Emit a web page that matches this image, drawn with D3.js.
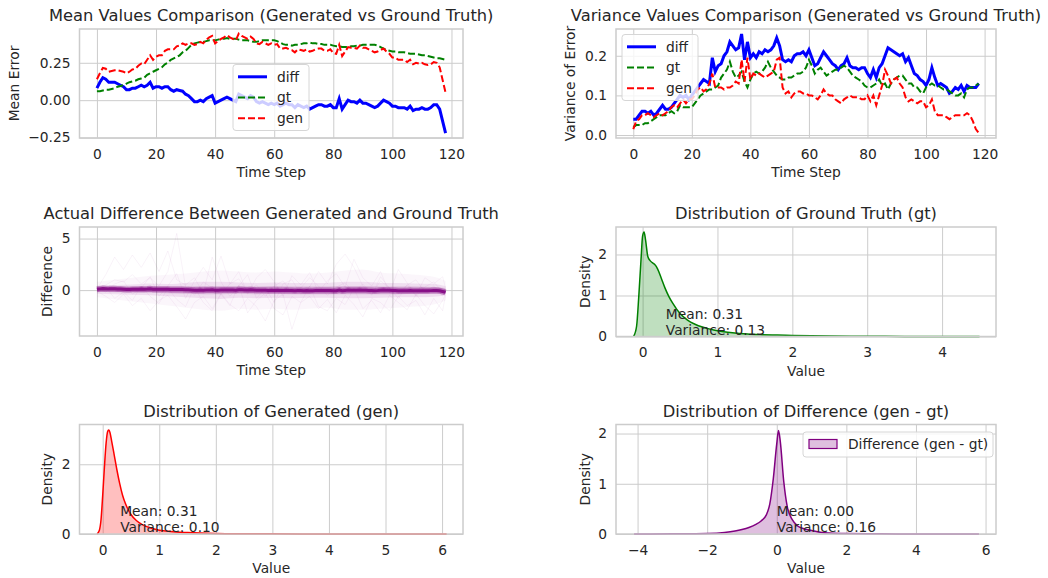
<!DOCTYPE html>
<html><head><meta charset="utf-8">
<script src="https://cdn.jsdelivr.net/npm/d3@7"></script>
<style>body{margin:0;background:#fff}svg{display:block;font-family:"DejaVu Sans",sans-serif}</style>
</head><body>
<script>
// ---------- DATA ----------
const timeSteps = d3.range(119);
const xTicksTime = [0,20,40,60,80,100,120];

const diffMean = [0.08,0.12,0.15,0.14,0.12,0.12,0.12,0.11,0.10,0.09,
0.07,0.07,0.08,0.08,0.09,0.10,0.09,0.10,0.12,0.08,
0.09,0.09,0.08,0.09,0.09,0.07,0.06,0.07,0.065,0.06,
0.04,0.03,0.01,-0.01,-0.01,0.00,-0.01,0.01,0.02,0.03,
-0.02,-0.01,0.00,0.01,0.02,0.01,0.00,-0.01,0.04,0.03,
0.02,0.01,0.03,0.02,-0.01,-0.02,-0.01,-0.02,-0.03,-0.02,
-0.03,-0.02,-0.04,-0.03,-0.02,-0.03,-0.03,-0.05,-0.03,-0.04,
-0.05,-0.04,-0.06,-0.05,-0.04,-0.03,-0.03,-0.04,-0.04,-0.03,
-0.05,-0.05,0.01,-0.06,-0.03,0.00,-0.01,-0.01,-0.02,0.00,
-0.02,-0.02,-0.03,-0.04,-0.05,-0.04,-0.02,0.00,-0.01,-0.02,
-0.04,-0.04,-0.05,-0.05,-0.05,-0.06,-0.04,-0.07,-0.06,-0.06,
-0.05,-0.06,-0.06,-0.05,-0.03,-0.03,-0.06,-0.14,-0.22];

const gtMean = [0.06,0.06,0.065,0.07,0.07,0.075,0.08,0.09,0.095,0.10,
0.11,0.12,0.125,0.13,0.14,0.145,0.15,0.17,0.18,0.19,
0.20,0.21,0.22,0.24,0.25,0.27,0.28,0.29,0.30,0.32,
0.33,0.35,0.37,0.38,0.385,0.39,0.39,0.395,0.40,0.40,
0.40,0.405,0.41,0.41,0.415,0.41,0.41,0.41,0.405,0.40,
0.40,0.40,0.395,0.39,0.39,0.395,0.40,0.40,0.40,0.40,
0.40,0.395,0.385,0.375,0.37,0.37,0.365,0.37,0.37,0.375,
0.38,0.38,0.385,0.38,0.38,0.375,0.375,0.37,0.37,0.37,
0.365,0.36,0.36,0.355,0.355,0.355,0.36,0.36,0.365,0.365,
0.37,0.37,0.37,0.37,0.37,0.365,0.355,0.345,0.335,0.33,
0.325,0.325,0.32,0.32,0.32,0.315,0.31,0.31,0.31,0.305,
0.30,0.30,0.295,0.29,0.285,0.28,0.28,0.275,0.27];

const genMean = [0.14,0.18,0.215,0.21,0.19,0.195,0.20,0.20,0.195,0.19,
0.18,0.19,0.205,0.21,0.23,0.245,0.24,0.27,0.30,0.27,
0.29,0.30,0.30,0.33,0.34,0.34,0.34,0.36,0.365,0.38,
0.37,0.38,0.38,0.37,0.375,0.39,0.38,0.405,0.42,0.43,
0.38,0.395,0.41,0.42,0.435,0.42,0.41,0.40,0.445,0.43,
0.42,0.41,0.425,0.41,0.38,0.375,0.39,0.38,0.37,0.38,
0.37,0.375,0.345,0.345,0.35,0.34,0.335,0.32,0.34,0.335,
0.33,0.34,0.325,0.33,0.34,0.345,0.345,0.33,0.33,0.34,
0.315,0.31,0.37,0.295,0.325,0.355,0.35,0.35,0.345,0.365,
0.35,0.35,0.34,0.33,0.32,0.325,0.335,0.345,0.325,0.31,
0.285,0.285,0.27,0.27,0.27,0.255,0.27,0.24,0.25,0.245,
0.25,0.24,0.235,0.24,0.255,0.25,0.22,0.135,0.05];

const diffVar = [0.04,0.04,0.05,0.06,0.06,0.055,0.06,0.05,0.055,0.065,
0.075,0.065,0.065,0.07,0.08,0.09,0.10,0.095,0.10,0.09,
0.10,0.11,0.12,0.13,0.14,0.135,0.13,0.195,0.16,0.175,
0.18,0.20,0.21,0.235,0.225,0.215,0.22,0.255,0.19,0.235,
0.195,0.205,0.195,0.21,0.205,0.215,0.21,0.215,0.225,0.245,
0.225,0.19,0.185,0.19,0.185,0.20,0.205,0.205,0.21,0.20,
0.215,0.195,0.175,0.18,0.195,0.21,0.20,0.19,0.18,0.175,
0.165,0.175,0.18,0.195,0.175,0.17,0.17,0.165,0.17,0.17,
0.155,0.145,0.165,0.145,0.17,0.18,0.20,0.22,0.215,0.21,
0.205,0.20,0.205,0.185,0.195,0.175,0.155,0.15,0.14,0.135,
0.125,0.14,0.17,0.145,0.125,0.13,0.125,0.12,0.105,0.11,
0.12,0.115,0.125,0.11,0.125,0.12,0.12,0.12,0.13];

const gtVar = [0.02,0.025,0.025,0.025,0.03,0.03,0.035,0.04,0.045,0.05,
0.05,0.05,0.055,0.06,0.055,0.06,0.075,0.07,0.07,0.07,
0.07,0.08,0.09,0.10,0.105,0.11,0.115,0.115,0.12,0.125,
0.145,0.155,0.165,0.185,0.16,0.145,0.15,0.16,0.135,0.12,
0.14,0.155,0.16,0.155,0.16,0.17,0.185,0.17,0.16,0.15,
0.145,0.14,0.14,0.145,0.145,0.15,0.155,0.155,0.16,0.17,
0.19,0.175,0.155,0.165,0.17,0.16,0.15,0.155,0.16,0.165,
0.165,0.17,0.175,0.17,0.16,0.15,0.145,0.14,0.135,0.125,
0.12,0.12,0.125,0.13,0.14,0.125,0.13,0.115,0.13,0.14,
0.145,0.15,0.15,0.14,0.13,0.13,0.12,0.12,0.11,0.105,
0.12,0.125,0.13,0.125,0.125,0.12,0.115,0.115,0.11,0.105,
0.10,0.10,0.105,0.095,0.115,0.12,0.12,0.125,0.13];

const genVar = [0.015,0.035,0.04,0.05,0.05,0.055,0.05,0.045,0.05,0.055,
0.05,0.055,0.06,0.07,0.075,0.07,0.08,0.09,0.08,0.09,
0.09,0.10,0.115,0.12,0.11,0.115,0.13,0.155,0.12,0.12,
0.12,0.115,0.12,0.12,0.125,0.135,0.13,0.19,0.135,0.195,
0.14,0.155,0.15,0.155,0.15,0.145,0.15,0.155,0.16,0.19,
0.195,0.12,0.105,0.11,0.095,0.105,0.11,0.11,0.105,0.105,
0.10,0.10,0.095,0.09,0.10,0.115,0.105,0.10,0.10,0.09,
0.085,0.08,0.09,0.095,0.10,0.095,0.095,0.095,0.09,0.09,
0.10,0.085,0.10,0.075,0.10,0.125,0.165,0.15,0.13,0.14,
0.145,0.13,0.12,0.095,0.085,0.09,0.085,0.08,0.085,0.085,
0.07,0.075,0.09,0.06,0.05,0.05,0.05,0.045,0.04,0.045,
0.05,0.05,0.05,0.05,0.055,0.05,0.035,0.015,0.005];

// per-sample difference traces (every 3rd step) and spread envelopes (every 6th step)
const traceSteps = [0,3,6,9,12,15,18,21,24,27,30,33,36,39,42,45,48,51,54,57,60,63,66,69,72,75,78,81,84,87,90,93,96,99,102,105,108,111,114,117,118];
const traceA = [0.2,0.5,1.0,0.8,1.5,0.6,1.2,0.4,1.8,5.5,0.3,-0.5,0.8,0.2,-0.4,0.6,1.1,-0.2,0.5,-0.6,0.4,0.9,-0.3,0.2,1.2,0.4,-0.5,0.3,0.7,-0.2,0.6,-0.4,0.9,0.2,-0.3,0.5,-0.6,0.3,0.8,-0.2,0.1];
const traceB = [0.1,1.5,3.2,2.0,3.4,2.2,3.6,1.8,3.8,1.0,0.5,1.2,-0.3,3.2,0.8,-0.6,0.4,1.5,-0.8,0.2,-1.2,0.6,1.0,-0.4,0.3,1.8,0.6,2.5,3.5,2.2,0.4,-0.5,1.3,0.2,-0.8,0.5,1.0,-0.2,0.4,-0.6,0.0];
const traceC = [-0.1,-0.6,-1.2,-0.4,-1.5,-0.8,-2.0,-1.0,-0.5,-1.6,-2.8,-1.2,-0.6,-1.8,-0.3,-1.4,-2.0,-0.8,-1.6,-3.0,-1.0,-0.4,-3.8,-1.2,-0.6,-1.8,-0.9,-2.2,-0.5,-1.4,-2.6,-0.8,-1.2,-2.0,-0.6,-1.5,-1.0,-2.4,-0.8,-2.0,-0.5];
const traceD = [0.3,-0.2,0.6,0.9,-0.4,0.2,1.3,-0.6,0.4,1.6,-0.8,0.9,2.2,1.0,3.3,0.6,1.8,-0.4,1.2,2.0,0.8,-0.6,1.4,0.5,1.7,-0.2,0.9,1.6,0.3,3.0,1.2,0.4,1.8,-0.3,2.0,0.7,-0.5,1.2,0.6,1.3,0.2];
const traceE = [-0.2,0.3,-0.8,-0.2,-1.0,0.4,-0.6,-1.3,0.2,-0.9,-1.6,0.3,-1.2,-2.0,-0.4,-1.5,0.5,-2.2,-1.0,-0.3,-1.8,-2.4,-0.6,-1.2,0.4,-1.6,-2.0,-0.8,-1.4,0.2,-1.8,-1.0,-2.2,-0.5,-1.2,-1.9,-0.4,-1.5,-2.3,-1.0,-0.4];
const bandSteps = [0,6,12,18,24,30,36,42,48,54,60,66,72,78,84,90,96,102,108,114,118];
const coreUpper = [0.3,0.3,0.3,0.35,0.35,0.35,0.4,0.4,0.4,0.35,0.4,0.35,0.35,0.35,0.4,0.4,0.35,0.35,0.35,0.3,0.2];
const coreLower = [-0.15,-0.2,-0.2,-0.25,-0.3,-0.35,-0.4,-0.4,-0.35,-0.4,-0.35,-0.4,-0.4,-0.4,-0.4,-0.4,-0.4,-0.4,-0.35,-0.35,-0.3];
const innerUpper = [0.45,0.5,0.55,0.65,0.6,0.7,0.8,0.8,0.75,0.7,0.75,0.7,0.7,0.7,0.8,0.8,0.7,0.7,0.65,0.6,0.4];
const innerLower = [-0.35,-0.4,-0.45,-0.5,-0.6,-0.7,-0.8,-0.85,-0.75,-0.8,-0.75,-0.8,-0.75,-0.75,-0.8,-0.8,-0.75,-0.7,-0.7,-0.65,-0.5];
const outerUpper = [0.8,1.0,1.2,1.4,1.5,1.6,1.8,1.9,1.8,1.7,1.8,1.7,1.6,1.7,1.9,2.0,1.7,1.6,1.5,1.3,0.9];
const outerLower = [-0.7,-0.9,-1.1,-1.3,-1.5,-1.7,-1.9,-2.0,-1.8,-1.9,-1.8,-1.9,-1.8,-1.7,-1.9,-1.9,-1.8,-1.7,-1.6,-1.4,-1.0];

// KDE curves
const gtKdeX = [-0.12,-0.08,-0.05,-0.02,0,0.02,0.04,0.07,0.1,0.13,0.16,0.2,0.25,0.3,0.35,0.4,0.5,0.6,0.7,0.8,0.9,1.0,1.2,1.4,1.6,1.8,2.0,2.5,3.0,3.5,4.0,4.5];
const gtKdeY = [0,0.25,1.0,1.9,2.45,2.55,2.35,1.95,1.85,1.8,1.76,1.65,1.42,1.18,0.98,0.82,0.56,0.40,0.30,0.23,0.18,0.14,0.09,0.06,0.045,0.035,0.025,0.012,0.006,0.003,0.001,0];
const genKdeX = [-0.1,-0.06,-0.03,0,0.03,0.06,0.09,0.11,0.13,0.16,0.2,0.25,0.3,0.35,0.4,0.5,0.6,0.7,0.8,1.0,1.2,1.5,2.0,2.5,3,4,5,6.08];
const genKdeY = [0,0.1,0.4,1.1,1.9,2.6,2.95,2.98,2.9,2.65,2.3,1.85,1.45,1.12,0.88,0.56,0.38,0.27,0.2,0.11,0.07,0.04,0.015,0.007,0.004,0.002,0.001,0];
const difKdeX = [-4.1,-3,-2,-1.5,-1.2,-1,-0.8,-0.6,-0.45,-0.3,-0.2,-0.1,0,0.05,0.1,0.2,0.3,0.45,0.6,0.8,1,1.2,1.5,2,3,4,5,5.81];
const difKdeY = [0,0.003,0.01,0.03,0.06,0.09,0.13,0.19,0.26,0.38,0.6,1.1,1.8,2.06,1.85,1.05,0.55,0.28,0.16,0.1,0.07,0.04,0.02,0.008,0.003,0.001,0.0005,0];

const stats = {gt:{mean:0.31,variance:0.13}, gen:{mean:0.31,variance:0.10}, diff:{mean:0.00,variance:0.16}};

// ---------- DRAWING ----------
const W = 1048, H = 578;
const TXT = "#262626", GRID = "#cccccc";
const FS = "13.8px", TFS = "16.3px";
const svg = d3.select("body").append("svg").attr("width", W).attr("height", H);

function axes(o) {
  const x = d3.scaleLinear().domain(o.xDomain).range([o.left, o.left + o.width]);
  const y = d3.scaleLinear().domain(o.yDomain).range([o.top + o.height, o.top]);
  const g = svg.append("g");
  const gx = g.append("g").attr("transform", `translate(0,${o.top + o.height})`)
    .call(d3.axisBottom(x).tickValues(o.xTicks).tickSize(-o.height).tickPadding(11).tickFormat(o.xFmt || d3.format("d")));
  const gy = g.append("g").attr("transform", `translate(${o.left},0)`)
    .call(d3.axisLeft(y).tickValues(o.yTicks).tickSize(-o.width).tickPadding(9).tickFormat(o.yFmt || d3.format("d")));
  [gx, gy].forEach(a => {
    a.select(".domain").remove();
    a.selectAll(".tick line").attr("stroke", GRID).attr("stroke-width", 1);
    a.selectAll(".tick text").attr("fill", TXT).style("font-size", FS).style("font-family", "DejaVu Sans");
  });
  const data = g.append("g");
  const front = g.append("g");
  front.append("rect").attr("x", o.left).attr("y", o.top).attr("width", o.width).attr("height", o.height)
    .attr("fill", "none").attr("stroke", GRID).attr("stroke-width", 1.5);
  front.append("text").attr("x", o.left + o.width / 2).attr("y", o.top - 8).attr("text-anchor", "middle")
    .attr("fill", TXT).style("font-size", TFS).text(o.title);
  front.append("text").attr("x", o.left + o.width / 2).attr("y", o.top + o.height + 39).attr("text-anchor", "middle")
    .attr("fill", TXT).style("font-size", FS).text(o.xLabel);
  front.append("text").attr("transform", `translate(${o.left - o.yLabelGap},${o.top + o.height / 2}) rotate(-90)`)
    .attr("text-anchor", "middle").attr("fill", TXT).style("font-size", FS).text(o.yLabel);
  return {x, y, data, front};
}

function lineLegend(front, lx, ly, entries) {
  const boxH = 66, boxW = 76, sp = 20.7;
  front.append("rect").attr("x", lx).attr("y", ly).attr("width", boxW).attr("height", boxH).attr("rx", 3)
    .attr("fill", "#fff").attr("fill-opacity", 0.8).attr("stroke", "#d6d6d6").attr("stroke-width", 1);
  entries.forEach((e, i) => {
    const cy = ly + boxH / 2 + (i - 1) * sp;
    front.append("line").attr("x1", lx + 5).attr("x2", lx + 34).attr("y1", cy).attr("y2", cy)
      .attr("stroke", e.color).attr("stroke-width", e.width).attr("stroke-dasharray", e.dash || null);
    front.append("text").attr("x", lx + 44).attr("y", cy).attr("dy", "0.35em").attr("fill", TXT)
      .style("font-size", FS).text(e.label);
  });
}

const series = (vals) => vals.map((v, i) => [timeSteps[i], v]);

// Panel 1
{
  const a = axes({left:79.5, top:29, width:383.5, height:109, xDomain:[-5.9,123.9], yDomain:[-0.253,0.476],
    xTicks:xTicksTime, yTicks:[-0.25,0,0.25], yFmt:d3.format(".2f"),
    title:"Mean Values Comparison (Generated vs Ground Truth)", xLabel:"Time Step", yLabel:"Mean Error", yLabelGap:61});
  const ln = d3.line().x(d => a.x(d[0])).y(d => a.y(d[1]));
  a.data.append("path").attr("d", ln(series(diffMean))).attr("fill","none").attr("stroke","#0000ff").attr("stroke-width",3);
  a.data.append("path").attr("d", ln(series(gtMean))).attr("fill","none").attr("stroke","#008000").attr("stroke-width",2).attr("stroke-dasharray","7,3");
  a.data.append("path").attr("d", ln(series(genMean))).attr("fill","none").attr("stroke","#ff0000").attr("stroke-width",2).attr("stroke-dasharray","7,3");
  lineLegend(a.front, 233, 64.5, [
    {label:"diff", color:"#0000ff", width:3},
    {label:"gt", color:"#008000", width:2, dash:"7,3"},
    {label:"gen", color:"#ff0000", width:2, dash:"7,3"}]);
}

// Panel 2
{
  const a = axes({left:616, top:29, width:380, height:109, xDomain:[-5.9,123.9], yDomain:[-0.0075,0.2675],
    xTicks:xTicksTime, yTicks:[0,0.1,0.2], yFmt:d3.format(".1f"),
    title:"Variance Values Comparison (Generated vs Ground Truth)", xLabel:"Time Step", yLabel:"Variance of Error", yLabelGap:41});
  const ln = d3.line().x(d => a.x(d[0])).y(d => a.y(d[1]));
  a.data.append("path").attr("d", ln(series(diffVar))).attr("fill","none").attr("stroke","#0000ff").attr("stroke-width",3);
  a.data.append("path").attr("d", ln(series(gtVar))).attr("fill","none").attr("stroke","#008000").attr("stroke-width",2).attr("stroke-dasharray","7,3");
  a.data.append("path").attr("d", ln(series(genVar))).attr("fill","none").attr("stroke","#ff0000").attr("stroke-width",2).attr("stroke-dasharray","7,3");
  lineLegend(a.front, 622, 34.5, [
    {label:"diff", color:"#0000ff", width:3},
    {label:"gt", color:"#008000", width:2, dash:"7,3"},
    {label:"gen", color:"#ff0000", width:2, dash:"7,3"}]);
}

// Panel 3
{
  const a = axes({left:79.5, top:227, width:383.5, height:109, xDomain:[-5.9,123.9], yDomain:[-4.45,6.12],
    xTicks:xTicksTime, yTicks:[0,5],
    title:"Actual Difference Between Generated and Ground Truth", xLabel:"Time Step", yLabel:"Difference", yLabelGap:28});
  const band = (up, lo) => d3.area().curve(d3.curveMonotoneX)
    .x((d, i) => a.x(bandSteps[i])).y0((d, i) => a.y(lo[i])).y1((d, i) => a.y(up[i]))(up);
  a.data.append("path").attr("d", band(outerUpper, outerLower)).attr("fill", "#800080").attr("fill-opacity", 0.035);
  a.data.append("path").attr("d", band(innerUpper, innerLower)).attr("fill", "#800080").attr("fill-opacity", 0.09);
  a.data.append("path").attr("d", band(coreUpper, coreLower)).attr("fill", "#800080").attr("fill-opacity", 0.18);
  const tl = d3.line().x((d, i) => a.x(traceSteps[i])).y(d => a.y(d));
  [traceA, traceB, traceC, traceD, traceE].forEach(tr => {
    a.data.append("path").attr("d", tl(tr)).attr("fill","none").attr("stroke","#800080").attr("stroke-opacity",0.05).attr("stroke-width",1);
  });
  const ln = d3.line().x(d => a.x(d[0])).y(d => a.y(d[1]));
  a.data.append("path").attr("d", ln(series(diffMean))).attr("fill","none").attr("stroke","#800080").attr("stroke-opacity",0.4).attr("stroke-width",6);
  a.data.append("path").attr("d", ln(series(diffMean))).attr("fill","none").attr("stroke","#800080").attr("stroke-opacity",0.85).attr("stroke-width",3);
}

function kdePanel(o, xs, ys, color, st, legend) {
  const a = axes(o);
  const pts = xs.map((v, i) => [v, ys[i]]);
  a.data.append("path").attr("d", d3.area().curve(d3.curveMonotoneX).x(d => a.x(d[0])).y0(a.y(0)).y1(d => a.y(d[1]))(pts))
    .attr("fill", color).attr("fill-opacity", 0.25);
  a.data.append("path").attr("d", d3.line().curve(d3.curveMonotoneX).x(d => a.x(d[0])).y(d => a.y(d[1]))(pts))
    .attr("fill", "none").attr("stroke", color).attr("stroke-width", 1.5);
  const tx = a.x(st.mean), by = a.y(0) - 2;
  a.front.append("text").attr("x", tx).attr("y", by - 16).attr("fill", TXT).style("font-size", FS).text(`Mean: ${st.mean.toFixed(2)}`);
  a.front.append("text").attr("x", tx).attr("y", by).attr("fill", TXT).style("font-size", FS).text(`Variance: ${st.variance.toFixed(2)}`);
  if (legend) {
    const lx = a.x.range()[1] - 193, ly = a.y.range()[1] + 7.5;
    a.front.append("rect").attr("x", lx).attr("y", ly).attr("width", 190).attr("height", 25).attr("rx", 3)
      .attr("fill", "#fff").attr("fill-opacity", 0.8).attr("stroke", "#d6d6d6");
    a.front.append("rect").attr("x", lx + 6).attr("y", ly + 7.5).attr("width", 28).attr("height", 9)
      .attr("fill", color).attr("fill-opacity", 0.25).attr("stroke", color).attr("stroke-width", 1.2);
    a.front.append("text").attr("x", lx + 45).attr("y", ly + 12.5).attr("dy", "0.35em").attr("fill", TXT)
      .style("font-size", FS).text(legend);
  }
}

kdePanel({left:616, top:227, width:380, height:109.5, xDomain:[-0.355,4.72], yDomain:[0,2.67],
  xTicks:[0,1,2,3,4], yTicks:[0,1,2], title:"Distribution of Ground Truth (gt)", xLabel:"Value", yLabel:"Density", yLabelGap:26.5},
  gtKdeX, gtKdeY, "#008000", stats.gt);

kdePanel({left:79.5, top:424.5, width:383.5, height:109.5, xDomain:[-0.41,6.37], yDomain:[0,3.14],
  xTicks:[0,1,2,3,4,5,6], yTicks:[0,2], title:"Distribution of Generated (gen)", xLabel:"Value", yLabel:"Density", yLabelGap:28},
  genKdeX, genKdeY, "#ff0000", stats.gen);

kdePanel({left:616, top:424.5, width:380, height:109.5, xDomain:[-4.62,6.3], yDomain:[0,2.18],
  xTicks:[-4,-2,0,2,4,6], yTicks:[0,1,2], title:"Distribution of Difference (gen - gt)", xLabel:"Value", yLabel:"Density", yLabelGap:26.5},
  difKdeX, difKdeY, "#800080", stats.diff, "Difference (gen - gt)");
</script>
</body></html>
